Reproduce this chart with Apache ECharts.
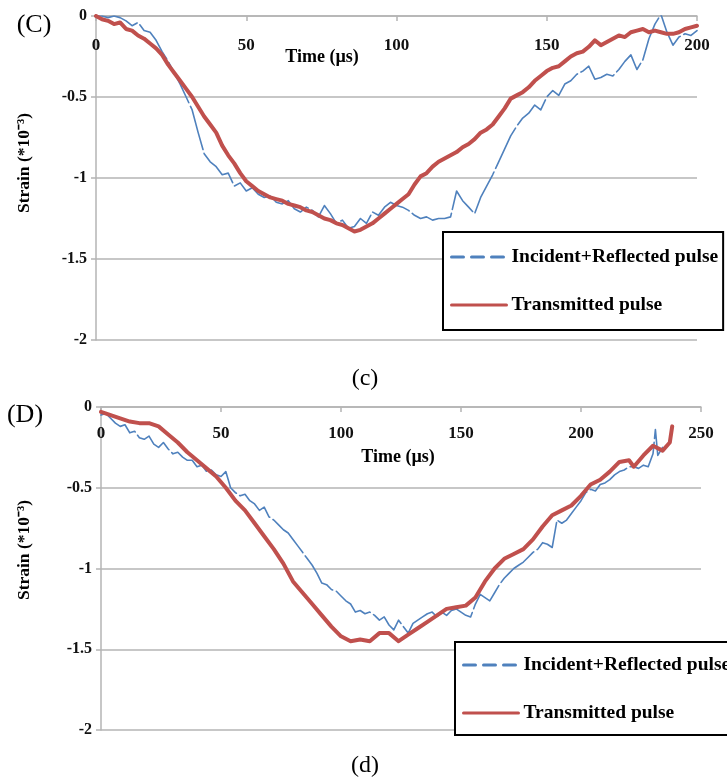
<!DOCTYPE html>
<html>
<head>
<meta charset="utf-8">
<title>Strain pulses</title>
<script src="https://cdn.jsdelivr.net/npm/echarts@6/dist/echarts.min.js"></script>
<style>
  html, body { margin: 0; padding: 0; background: #fff; }
  #chart { width: 727px; height: 781px; }
</style>
</head>
<body>
<div id="chart"></div>
<script>
// Panel (C): time in microseconds and strain (*10^-3)
const timeC = [0, 2, 4, 6, 8, 10, 12, 14, 16, 18, 20, 22, 24, 26, 28, 30, 32, 34, 36, 38, 40, 42, 44, 46, 48, 50,
  52, 54, 56, 58, 60, 62, 64, 66, 68, 70, 72, 74, 76, 78, 80, 82, 84, 86, 88, 90, 92, 94, 96, 98, 100,
  102, 104, 106, 108, 110, 112, 114, 116, 118, 120, 122, 124, 126, 128, 130, 132, 134, 136, 138, 140, 142, 144, 146, 148, 150,
  152, 154, 156, 158, 160, 162, 164, 166, 168, 170, 172, 174, 176, 178, 180, 182, 184, 186, 188, 190, 192, 194, 196, 198, 200];

const incidentC = [0, 0, -0.01, 0, -0.01, -0.03, -0.06, -0.04, -0.09, -0.10, -0.15, -0.22, -0.28, -0.35, -0.42, -0.50, -0.58, -0.72, -0.85, -0.90, -0.93, -0.98, -0.97, -1.05, -1.03, -1.08,
  -1.06, -1.10, -1.12, -1.11, -1.15, -1.16, -1.14, -1.19, -1.21, -1.18, -1.20, -1.24, -1.17, -1.22, -1.28, -1.26, -1.31, -1.30, -1.25, -1.28, -1.21, -1.23, -1.18, -1.15, -1.17,
  -1.18, -1.20, -1.23, -1.25, -1.24, -1.26, -1.25, -1.25, -1.24, -1.08, -1.14, -1.18, -1.22, -1.12, -1.05, -0.98, -0.90, -0.82, -0.74, -0.68, -0.63, -0.60, -0.55, -0.58, -0.50,
  -0.46, -0.49, -0.42, -0.40, -0.36, -0.34, -0.31, -0.39, -0.38, -0.36, -0.37, -0.33, -0.28, -0.24, -0.33, -0.27, -0.14, -0.05, 0.01, -0.10, -0.18, -0.13, -0.11, -0.12, -0.09];

const transmittedC = [0, -0.02, -0.03, -0.05, -0.04, -0.08, -0.09, -0.12, -0.14, -0.17, -0.20, -0.24, -0.30, -0.35, -0.40, -0.45, -0.50, -0.56, -0.62, -0.67, -0.72, -0.80, -0.86, -0.91, -0.97, -1.02,
  -1.05, -1.08, -1.10, -1.12, -1.13, -1.14, -1.16, -1.17, -1.18, -1.20, -1.21, -1.23, -1.25, -1.26, -1.28, -1.29, -1.31, -1.33, -1.32, -1.30, -1.28, -1.25, -1.22, -1.19, -1.16,
  -1.13, -1.10, -1.04, -0.99, -0.97, -0.93, -0.90, -0.88, -0.86, -0.84, -0.81, -0.79, -0.76, -0.72, -0.70, -0.67, -0.62, -0.57, -0.51, -0.49, -0.47, -0.44, -0.40, -0.37, -0.34,
  -0.32, -0.31, -0.28, -0.25, -0.23, -0.22, -0.19, -0.15, -0.18, -0.16, -0.14, -0.12, -0.13, -0.10, -0.09, -0.08, -0.10, -0.09, -0.10, -0.11, -0.11, -0.10, -0.08, -0.07, -0.06];

// Panel (D)
const timeIncidentD = [0, 2, 4, 6, 8, 10, 12, 14, 16, 18, 20, 22, 24, 26, 28, 30, 32, 34, 36, 38, 40, 42, 44, 46, 48, 50,
  52, 54, 56, 58, 60, 62, 64, 66, 68, 70, 72, 74, 76, 78, 80, 82, 84, 86, 88, 90, 92, 94, 96, 98, 100,
  102, 104, 106, 108, 110, 112, 114, 116, 118, 120, 122, 124, 126, 128, 130, 132, 134, 136, 138, 140, 142, 144, 146, 148, 150,
  152, 154, 156, 158, 160, 162, 164, 166, 168, 170, 172, 174, 176, 178, 180, 182, 184, 186, 188, 190, 192, 194, 196, 198, 200,
  202, 204, 206, 208, 210, 212, 214, 216, 218, 220, 222, 224, 226, 228, 230, 231, 232, 234];

const incidentD = [-0.05, -0.04, -0.07, -0.10, -0.12, -0.11, -0.16, -0.15, -0.19, -0.20, -0.18, -0.23, -0.25, -0.22, -0.26, -0.29, -0.28, -0.31, -0.33, -0.33, -0.37, -0.36, -0.40, -0.39, -0.42, -0.43,
  -0.40, -0.50, -0.53, -0.55, -0.54, -0.58, -0.60, -0.64, -0.62, -0.68, -0.70, -0.73, -0.76, -0.78, -0.82, -0.86, -0.90, -0.94, -0.98, -1.03, -1.09, -1.10, -1.13, -1.14, -1.17,
  -1.20, -1.22, -1.27, -1.26, -1.28, -1.27, -1.29, -1.32, -1.30, -1.35, -1.38, -1.32, -1.36, -1.40, -1.34, -1.32, -1.30, -1.28, -1.27, -1.30, -1.27, -1.29, -1.26, -1.25, -1.27,
  -1.29, -1.30, -1.22, -1.16, -1.18, -1.20, -1.15, -1.10, -1.06, -1.03, -1.00, -0.98, -0.96, -0.93, -0.90, -0.88, -0.84, -0.85, -0.87, -0.70, -0.72, -0.70, -0.66, -0.62, -0.58,
  -0.53, -0.51, -0.52, -0.48, -0.47, -0.45, -0.42, -0.40, -0.39, -0.37, -0.37, -0.38, -0.36, -0.37, -0.29, -0.14, -0.30, -0.25];

const timeTransmittedD = [0, 4, 8, 12, 16, 20, 24, 28, 32, 36, 40, 44, 48, 52, 56, 60, 64, 68, 72, 76, 80, 84, 88, 92, 96, 100,
  104, 108, 112, 116, 120, 124, 128, 132, 136, 140, 144, 148, 152, 156, 160, 164, 168, 172, 176, 180, 184, 188, 192, 196, 200,
  204, 208, 212, 216, 220, 222, 226, 230, 234, 237, 238];

const transmittedD = [-0.03, -0.05, -0.07, -0.09, -0.10, -0.10, -0.12, -0.17, -0.22, -0.28, -0.33, -0.38, -0.43, -0.50, -0.58, -0.64, -0.72, -0.80, -0.88, -0.97, -1.08, -1.15, -1.22, -1.29, -1.36, -1.42,
  -1.45, -1.44, -1.45, -1.40, -1.40, -1.45, -1.41, -1.37, -1.33, -1.29, -1.25, -1.24, -1.23, -1.18, -1.08, -1.00, -0.94, -0.91, -0.88, -0.82, -0.74, -0.67, -0.64, -0.61, -0.55,
  -0.48, -0.45, -0.40, -0.34, -0.33, -0.37, -0.30, -0.24, -0.27, -0.22, -0.12];

const xTicksC = { min: 0, max: 200, step: 50 };
const xTicksD = { min: 0, max: 250, step: 50 };
const yTicks = { min: -2, max: 0, step: 0.5 };

const seriesNames = ['Incident+Reflected pulse', 'Transmitted pulse'];
const axisTitle = 'Time (\u00b5s)';
const strainTitle = 'Strain (*10\u207b\u00b3)';

const pairs = (xs, ys) => xs.map((t, i) => [t, ys[i]]);

const SERIF = '"Liberation Serif", "Times New Roman", serif';
const BLUE = '#4F81BD';
const RED = '#C0504D';
const GRID_GREY = '#B4B4B4';

function xAxisFor(gridIndex, ticks, margin) {
  return {
    gridIndex, type: 'value', position: 'top',
    min: ticks.min, max: ticks.max, interval: ticks.step,
    axisLine: { show: true, onZero: false, lineStyle: { color: GRID_GREY, width: 1.5 } },
    axisTick: { show: true, inside: true, length: 5, lineStyle: { color: GRID_GREY, width: 1.5 } },
    axisLabel: { inside: true, margin, fontFamily: SERIF, fontWeight: 'bold', fontSize: 17, color: '#111' },
    splitLine: { show: false }
  };
}

function yAxisFor(gridIndex) {
  return {
    gridIndex, type: 'value',
    min: yTicks.min, max: yTicks.max, interval: yTicks.step,
    axisLine: { show: true, onZero: false, lineStyle: { color: GRID_GREY, width: 1.5 } },
    axisTick: { show: true, length: 5, lineStyle: { color: GRID_GREY, width: 1.5 } },
    axisLabel: { margin: 9, fontFamily: SERIF, fontWeight: 'bold', fontSize: 16, color: '#111' },
    splitLine: { show: true, lineStyle: { color: GRID_GREY, width: 1.5 } }
  };
}

// Legend keys are plain line samples: the marker circle is hidden.
function legendFor(left, top, padding) {
  return {
    orient: 'vertical', left, top, padding,
    itemGap: 28, itemWidth: 55, itemHeight: 19,
    borderColor: '#000', borderWidth: 2, backgroundColor: '#fff',
    textStyle: { fontFamily: SERIF, fontWeight: 'bold', fontSize: 19.5, color: '#000' },
    data: [
      { name: seriesNames[0], itemStyle: { opacity: 0 }, lineStyle: { type: [12, 8], width: 3, color: BLUE } },
      { name: seriesNames[1], itemStyle: { opacity: 0 }, lineStyle: { type: 'solid', width: 3, color: RED } }
    ]
  };
}

function lineSeries(name, data, axisIndex, color, width, dash) {
  return {
    name, type: 'line', data,
    xAxisIndex: axisIndex, yAxisIndex: axisIndex,
    symbol: 'none', smooth: false, animation: false,
    lineStyle: { color, width, type: dash, join: 'round', cap: 'round' },
    itemStyle: { color },
    z: color === RED ? 3 : 2
  };
}

function label(text, x, y, size, weight, rotation) {
  return {
    type: 'text', x, y, rotation: rotation || 0,
    style: {
      text, fill: '#000', align: 'center', verticalAlign: 'middle',
      font: `${weight} ${size}px ${SERIF}`
    }
  };
}

const chart = echarts.init(document.getElementById('chart'), null, { renderer: 'canvas' });

chart.setOption({
  backgroundColor: '#fff',
  animation: false,
  grid: [
    { left: 96, top: 16, width: 601, height: 324 },
    { left: 101, top: 407, width: 600, height: 323 }
  ],
  xAxis: [xAxisFor(0, xTicksC, 21), xAxisFor(1, xTicksD, 18)],
  yAxis: [yAxisFor(0), yAxisFor(1)],
  legend: [
    legendFor(443, 232, [15, 5, 15, 7]),
    legendFor(455, 642, [13, 5, 12, 7])
  ],
  series: [
    lineSeries(seriesNames[0], pairs(timeC, incidentC), 0, BLUE, 1.6, [45, 4]),
    lineSeries(seriesNames[1], pairs(timeC, transmittedC), 0, RED, 4, 'solid'),
    lineSeries(seriesNames[0], pairs(timeIncidentD, incidentD), 1, BLUE, 1.6, [45, 4]),
    lineSeries(seriesNames[1], pairs(timeTransmittedD, transmittedD), 1, RED, 4, 'solid')
  ],
  graphic: [
    label('(C)', 34, 25, 26, 'normal'),
    label('(D)', 25, 415, 26, 'normal'),
    label(axisTitle, 322, 57, 18, 'bold'),
    label(axisTitle, 398, 457, 18, 'bold'),
    label(strainTitle, 24, 163, 17.5, 'bold', Math.PI / 2),
    label(strainTitle, 24, 550, 17.5, 'bold', Math.PI / 2),
    label('(c)', 365, 379, 24, 'normal'),
    label('(d)', 365, 766, 24, 'normal')
  ]
});
</script>
</body>
</html>
